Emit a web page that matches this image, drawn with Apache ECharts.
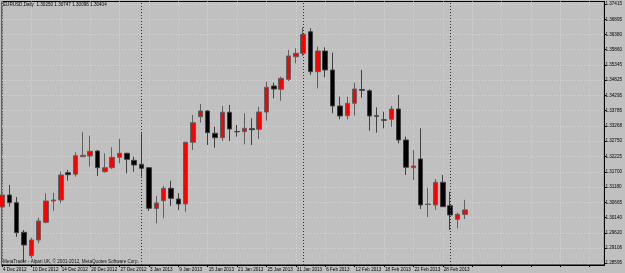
<!DOCTYPE html>
<html lang="en">
<head>
<meta charset="UTF-8">
<title>EURUSD,Daily</title>
<script src="https://cdn.jsdelivr.net/npm/echarts@6/dist/echarts.min.js"></script>
<style>
    html, body { margin: 0; padding: 0; background: #c0c0c0; }
    #chart { width: 625px; height: 273px; }
</style>
</head>
<body>
<div id="chart"></div>
<script>
// trading days shown on the chart
var dates = [
    '4 Dec 2012', '5 Dec 2012', '6 Dec 2012', '7 Dec 2012', '10 Dec 2012', '11 Dec 2012', '12 Dec 2012', '13 Dec 2012',
    '14 Dec 2012', '17 Dec 2012', '18 Dec 2012', '19 Dec 2012', '20 Dec 2012', '21 Dec 2012', '24 Dec 2012', '26 Dec 2012',
    '27 Dec 2012', '28 Dec 2012', '31 Dec 2012', '2 Jan 2013', '3 Jan 2013', '4 Jan 2013', '7 Jan 2013', '8 Jan 2013',
    '9 Jan 2013', '10 Jan 2013', '11 Jan 2013', '14 Jan 2013', '15 Jan 2013', '16 Jan 2013', '17 Jan 2013', '18 Jan 2013',
    '21 Jan 2013', '22 Jan 2013', '23 Jan 2013', '24 Jan 2013', '25 Jan 2013', '28 Jan 2013', '29 Jan 2013', '30 Jan 2013',
    '31 Jan 2013', '1 Feb 2013', '4 Feb 2013', '5 Feb 2013', '6 Feb 2013', '7 Feb 2013', '8 Feb 2013', '11 Feb 2013',
    '12 Feb 2013', '13 Feb 2013', '14 Feb 2013', '15 Feb 2013', '18 Feb 2013', '19 Feb 2013', '20 Feb 2013', '21 Feb 2013',
    '22 Feb 2013', '25 Feb 2013', '26 Feb 2013', '27 Feb 2013', '28 Feb 2013', '1 Mar 2013', '4 Mar 2013', '5 Mar 2013'
];
var open = [
    1.30503, 1.30912, 1.30650, 1.29642, 1.28845, 1.29380, 1.29982, 1.30708,
    1.30742, 1.31671, 1.31617, 1.32216, 1.32240, 1.32410, 1.31705, 1.31841,
    1.32195, 1.32332, 1.32093, 1.31957, 1.31841, 1.30452, 1.30718, 1.31140,
    1.30776, 1.30605, 1.32706, 1.33578, 1.33772, 1.33013, 1.32863, 1.33728,
    1.33074, 1.33067, 1.33170, 1.33149, 1.33738, 1.34623, 1.34511, 1.34851,
    1.35621, 1.35736, 1.36472, 1.35110, 1.35815, 1.35168, 1.33942, 1.33612,
    1.34034, 1.34504, 1.34463, 1.33608, 1.33472, 1.33489, 1.33840, 1.32785,
    1.31841, 1.32138, 1.30588, 1.30572, 1.31344, 1.30548, 1.30085, 1.30250
];
var close = [
    1.30912, 1.30650, 1.29628, 1.29209, 1.29380, 1.30027, 1.30708, 1.30742,
    1.31593, 1.31603, 1.32250, 1.32263, 1.32400, 1.31841, 1.31841, 1.32195,
    1.32332, 1.32127, 1.31933, 1.31821, 1.30459, 1.30640, 1.31140, 1.30799,
    1.30605, 1.32706, 1.33373, 1.33772, 1.33033, 1.32863, 1.33728, 1.33159,
    1.33064, 1.33183, 1.33135, 1.33738, 1.34579, 1.34521, 1.34885, 1.35645,
    1.35736, 1.36383, 1.35110, 1.35815, 1.35168, 1.33942, 1.33602, 1.34034,
    1.34521, 1.34477, 1.33602, 1.33595, 1.33459, 1.33840, 1.32785, 1.31855,
    1.31899, 1.30572, 1.30602, 1.31344, 1.30514, 1.30231, 1.30255, 1.30404
];
var low = [
    1.30401, 1.30514, 1.29482, 1.28631, 1.28757, 1.29267, 1.29948, 1.30377,
    1.30629, 1.31399, 1.31535, 1.32206, 1.31875, 1.31559, 1.31671, 1.31797,
    1.31991, 1.31651, 1.31705, 1.31535, 1.30367, 1.29948, 1.30119, 1.30537,
    1.30401, 1.30343, 1.32444, 1.33373, 1.32614, 1.32522, 1.32751, 1.32751,
    1.32897, 1.32638, 1.32614, 1.32819, 1.33442, 1.34204, 1.34123, 1.34793,
    1.35396, 1.35645, 1.34998, 1.34545, 1.34919, 1.33694, 1.33489, 1.33489,
    1.33612, 1.34225, 1.33101, 1.33033, 1.33183, 1.33237, 1.32672, 1.31593,
    1.31422, 1.30435, 1.30153, 1.30401, 1.30504, 1.29720, 1.29778, 1.30096
];
var high = [
    1.31014, 1.31252, 1.30844, 1.29720, 1.29458, 1.30139, 1.30970, 1.30990,
    1.31705, 1.31763, 1.32366, 1.33047, 1.32931, 1.32444, 1.32332, 1.32536,
    1.32819, 1.32352, 1.32216, 1.33013, 1.31865, 1.30878, 1.31218, 1.31398,
    1.30970, 1.32727, 1.33636, 1.34010, 1.33806, 1.33237, 1.33942, 1.33976,
    1.33295, 1.33694, 1.33524, 1.33918, 1.34770, 1.34736, 1.34940, 1.35849,
    1.35907, 1.36620, 1.36588, 1.35961, 1.35941, 1.35757, 1.34259, 1.34259,
    1.34736, 1.35168, 1.34511, 1.33898, 1.33748, 1.33942, 1.34316, 1.32897,
    1.32444, 1.33183, 1.31160, 1.31457, 1.31593, 1.31024, 1.30309, 1.30747
];
// price scale labels on the right
var priceTicks = [
    1.28595, 1.29106, 1.29620, 1.30140, 1.30665, 1.31180, 1.31700, 1.32225, 1.32750,
    1.33268, 1.33785, 1.34295, 1.34825, 1.35345, 1.35860, 1.36380, 1.36895, 1.37415
];
// first bar of each month -> period separators
var monthStarts = ['2 Jan 2013', '1 Feb 2013', '1 Mar 2013'];

var FONT = 'Liberation Sans';
var FS = 4.6;

// empty space to the right of the last bar
var cats = dates.slice();
for (var i = 0; i < 19; i++) cats.push('pad' + i);

var candles = dates.map(function (d, i) {
    return [open[i], close[i], low[i], high[i]];
});
var last = dates.length - 1;

var marks = monthStarts.map(function (d) {
    return { xAxis: dates.indexOf(d) };
});
marks.push({
    yAxis: close[last],
    lineStyle: { opacity: 0 },
    label: {
        show: true, position: 'end', distance: 1,
        formatter: close[last].toFixed(5),
        backgroundColor: '#000', color: '#fff',
        fontSize: FS, fontFamily: FONT, padding: [1, 1, 0, 1]
    }
});

var chart = echarts.init(document.getElementById('chart'));
chart.setOption({
    animation: false,
    backgroundColor: '#c0c0c0',
    title: [{
        text: 'EURUSD,Daily  ' + [open[last], high[last], low[last], close[last]].map(function (v) { return v.toFixed(5); }).join(' '),
        left: 3, top: 2.5, padding: 0,
        textStyle: { fontSize: FS, fontWeight: 'normal', color: '#000', fontFamily: FONT }
    }, {
        text: 'MetaTrader - Alpari UK, \u00a9 2001-2012, MetaQuotes Software Corp.',
        left: 3, top: 259, padding: 0,
        textStyle: { fontSize: FS, fontWeight: 'normal', color: '#111', fontFamily: FONT }
    }],
    grid: {
        left: 1.5, top: 1.5, right: 17.5, bottom: 8,
        show: true, borderColor: '#000', borderWidth: 1
    },
    xAxis: {
        type: 'category',
        data: cats,
        boundaryGap: false,
        axisLine: { show: true, lineStyle: { color: '#000', width: 1 } },
        axisTick: { show: true, interval: 3, length: 2, lineStyle: { color: '#000' } },
        axisLabel: {
            interval: 3, align: 'left', margin: 2, padding: [0, 0, 0, 1],
            fontSize: FS, color: '#000', fontFamily: FONT,
            formatter: function (v, i) { return i < dates.length ? v : ''; }
        },
        splitLine: { show: true, interval: 3, lineStyle: { color: '#d6d6d6', type: [1, 2] } }
    },
    yAxis: {
        type: 'value',
        position: 'right',
        min: 1.28528,
        max: 1.37500,
        axisLine: { show: true, lineStyle: { color: '#000', width: 1 } },
        axisTick: { show: true, length: 2, customValues: priceTicks, lineStyle: { color: '#000' } },
        axisLabel: {
            customValues: priceTicks, margin: 1,
            fontSize: FS, color: '#000', fontFamily: FONT,
            formatter: function (v) { return v.toFixed(5); }
        },
        splitLine: { show: true, lineStyle: { color: '#d6d6d6', type: [1, 2] } }
    },
    series: [{
        type: 'candlestick',
        data: candles,
        barWidth: 5,
        clip: false,
        itemStyle: {
            color: '#ff0000', color0: '#000000',
            borderColor: '#606060', borderColor0: '#404040', borderWidth: 1
        },
        markLine: {
            silent: true,
            symbol: 'none',
            label: { show: false },
            lineStyle: { color: '#333', type: [1, 2], width: 1 },
            data: marks
        }
    }]
});
</script>
</body>
</html>
